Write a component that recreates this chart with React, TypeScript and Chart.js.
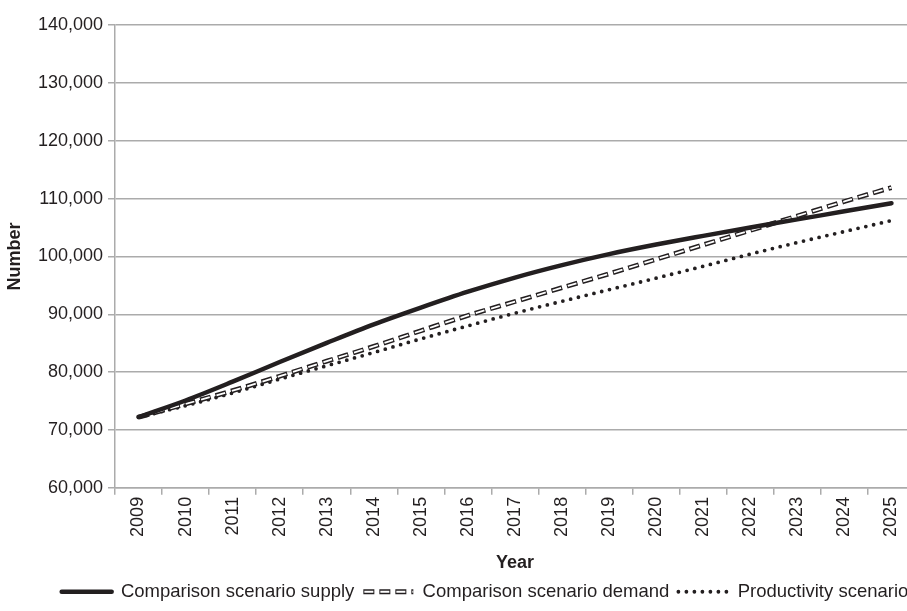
import React, { useEffect, useRef } from "react";
import { Chart, registerables } from "chart.js";

Chart.register(...registerables);

const years = ["2009","2010","2011","2012","2013","2014","2015","2016","2017","2018","2019","2020","2021","2022","2023","2024","2025"];
const supply = [72250, 75100, 78350, 81750, 85050, 88250, 91150, 93900, 96350, 98500, 100400, 102050, 103550, 105000, 106400, 107800, 109200];
const demand = [72200, 74500, 76800, 79300, 81900, 84450, 87150, 89800, 92200, 94600, 97000, 99500, 102000, 104500, 107000, 109500, 111900];
const productivity = [72200, 74200, 76400, 78800, 81100, 83400, 85750, 88000, 90200, 92250, 94250, 96250, 98300, 100400, 102400, 104300, 106200];
const seriesNames = ["Comparison scenario supply", "Comparison scenario demand", "Productivity scenario"];
const yTicks = { min: 60000, max: 140000, step: 10000 };

const INK = "#231f20";
const GRID = "#ababab";
const FONT = "'Liberation Sans', Arial, Helvetica, sans-serif";
const OVERLAY = "__overlay";

const hollowLegend = {
  id: "hollowLegend",
  afterDraw(chart: any) {
    const legend = chart.legend;
    if (!legend || !legend.legendItems) return;
    legend.legendItems.forEach((item: any, i: number) => {
      if (item.text !== seriesNames[1]) return;
      const hb = legend.legendHitBoxes[i];
      if (!hb) return;
      const ctx = chart.ctx;
      ctx.save();
      ctx.strokeStyle = "#ffffff";
      ctx.lineWidth = 1.8;
      ctx.setLineDash([9, 7]);
      ctx.lineDashOffset = -1;
      ctx.beginPath();
      const cy = hb.top + hb.height / 2;
      ctx.moveTo(hb.left, cy);
      ctx.lineTo(hb.left + 50, cy);
      ctx.stroke();
      ctx.restore();
    });
  },
};

export default function App() {
  const ref = useRef<HTMLCanvasElement | null>(null);
  useEffect(() => {
    if (!ref.current) return;
    Chart.defaults.font.family = FONT;
    Chart.defaults.color = INK;
    const common = { pointRadius: 0, cubicInterpolationMode: "monotone" };
    const chart = new Chart(ref.current, {
      type: "line",
      data: {
        labels: years,
        datasets: [
          {
            ...common,
            label: seriesNames[0],
            data: supply,
            borderColor: INK,
            backgroundColor: INK,
            borderWidth: 4.5,
            order: 0,
            borderCapStyle: "round",
          },
          {
            ...common,
            label: OVERLAY,
            data: demand,
            borderColor: "#ffffff",
            backgroundColor: "#ffffff",
            borderWidth: 1.8,
            borderDash: [9, 7],
            borderDashOffset: -1,
            order: 1,
          },
          {
            ...common,
            label: seriesNames[1],
            data: demand,
            borderColor: INK,
            backgroundColor: INK,
            borderWidth: 4.8,
            borderDash: [11, 5],
            order: 2,
          },
          {
            ...common,
            label: seriesNames[2],
            data: productivity,
            borderColor: INK,
            backgroundColor: INK,
            borderWidth: 3.8,
            borderDash: [0, 8],
            borderCapStyle: "round",
            order: 3,
          },
        ],
      },
      options: {
        responsive: false,
        animation: false,
        layout: { padding: { top: 25, left: 0, right: 0, bottom: 0 } },
        plugins: {
          tooltip: { enabled: false },
          legend: {
            position: "bottom",
            labels: {
              usePointStyle: true,
              pointStyle: "line",
              pointStyleWidth: 50,
              boxHeight: 18,
              padding: 9,
              color: INK,
              font: { size: 18.5, family: FONT },
              generateLabels: (c: any) => {
                const base = (Chart.defaults as any).plugins.legend.labels.generateLabels(c);
                return base
                  .filter((it: any) => c.data.datasets[it.datasetIndex].label !== OVERLAY)
                  .map((it: any) => {
                    const ds = c.data.datasets[it.datasetIndex];
                    return {
                      ...it,
                      lineDash: ds.borderDash || [],
                      lineDashOffset: 0,
                      lineCap: ds.borderCapStyle || "butt",
                      lineWidth: ds.borderWidth,
                      strokeStyle: ds.borderColor,
                    };
                  });
              },
            },
          },
        },
        scales: {
          x: {
            type: "category",
            offset: true,
            grid: {
              display: true,
              offset: true,
              drawOnChartArea: false,
              drawTicks: true,
              tickLength: 7,
              color: GRID,
              lineWidth: 1.5,
            },
            border: { display: true, color: GRID, width: 1.5 },
            ticks: {
              minRotation: 90,
              maxRotation: 90,
              autoSkip: false,
              padding: 2,
              color: INK,
              font: { size: 18, family: FONT },
            },
            title: {
              display: true,
              text: "Year",
              color: INK,
              font: { size: 18, weight: "bold", family: FONT },
              padding: { top: 13, bottom: 0 },
            },
          },
          y: {
            min: yTicks.min,
            max: yTicks.max,
            afterFit: (s: any) => { s.width = 115; },
            grid: {
              color: GRID,
              lineWidth: 1.5,
              tickLength: 7,
              drawTicks: true,
            },
            border: { display: true, color: GRID, width: 1.5 },
            ticks: {
              stepSize: yTicks.step,
              padding: 5,
              color: INK,
              font: { size: 18, family: FONT },
              callback: (v: any) => Number(v).toLocaleString("en-US"),
            },
            title: {
              display: true,
              text: "Number",
              color: INK,
              font: { size: 18, weight: "bold", family: FONT },
              padding: { top: 4, bottom: 0 },
            },
          },
          yR: {
            position: "right",
            display: true,
            afterFit: (s: any) => { s.width = 55; },
            grid: { display: false, drawTicks: false },
            border: { display: false },
            ticks: { display: false },
          },
        },
      },
      plugins: [hollowLegend],
    } as any);
    return () => chart.destroy();
  }, []);
  return (
    <div style={{ position: "fixed", left: 0, top: 0, width: 907, height: 611, overflow: "hidden", background: "#fff" }}>
      <canvas ref={ref} width={970} height={611} style={{ display: "block" }} />
    </div>
  );
}
